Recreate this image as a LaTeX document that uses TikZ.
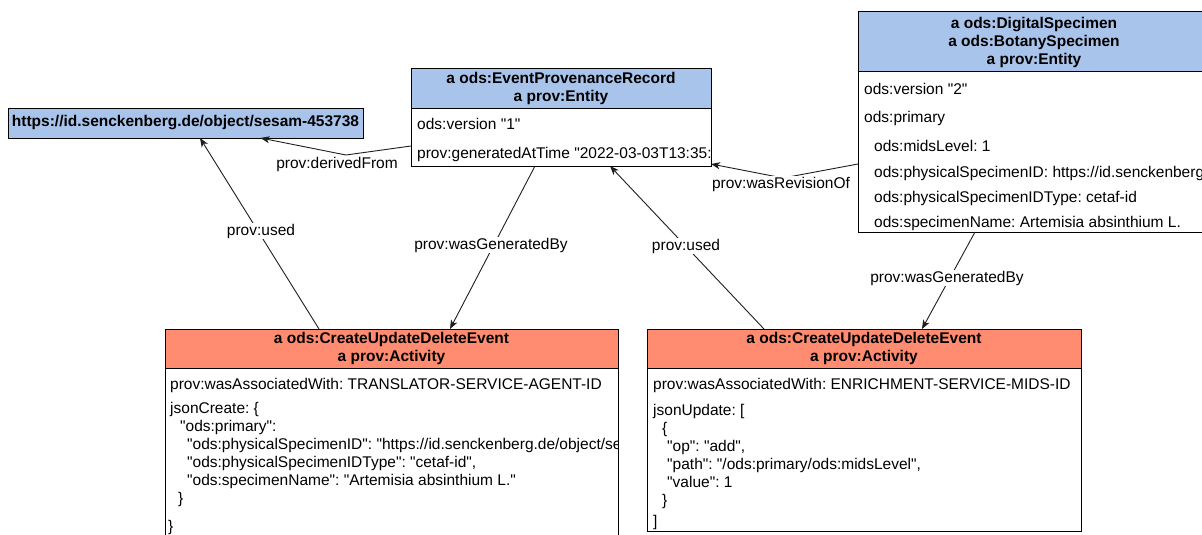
\documentclass[tikz,border=0pt]{standalone}
\usepackage{fontspec}
\setmainfont{Liberation Sans}[Ligatures=TeXOff]
\usetikzlibrary{arrows.meta}

\definecolor{entityblue}{RGB}{169,196,235}
\definecolor{activityred}{RGB}{255,140,112}
\definecolor{edgegray}{RGB}{30,30,30}

\tikzset{
  txtfont/.style={font=\fontsize{15.5}{18}\selectfont},
  box/.style={draw=black, line width=1pt, inner sep=0pt, outer sep=0pt},
  entityhead/.style={box, fill=entityblue, align=center, font=\fontsize{15.5}{18}\selectfont\bfseries},
  activityhead/.style={box, fill=activityred, align=center, font=\fontsize{15.5}{18}\selectfont\bfseries},
  bodybox/.style={box, fill=white},
  row/.style={anchor=base west, inner sep=0pt, txtfont},
  link/.style={draw=edgegray, line width=0.9pt, -{Stealth[length=9pt,width=7pt,inset=2.5pt]}},
  linklabel/.style={fill=white, inner sep=1pt, txtfont},
}

\begin{document}
\frenchspacing
\begin{tikzpicture}[x=1pt, y=-1pt]
\useasboundingbox (0,0) rectangle (1202,535);
\clip (0,0) rectangle (1202,535);

% ---- entity: external object ----
\node[entityhead, minimum width=355pt, minimum height=30pt] (url) at (185.5,123)
  {https://id.senckenberg.de/object/sesam-453738};

% ---- entity: event provenance record ----
\node[entityhead, minimum width=300pt, minimum height=39pt] (eprhead) at (561,88.5)
  {a ods:EventProvenanceRecord\\a prov:Entity};
\node[bodybox, minimum width=300pt, minimum height=58pt] (eprbody) at (561,137) {};
\begin{scope}
  \clip (eprbody.south west) rectangle (eprbody.north east);
  \node[row] (eprver) at (417,129) {ods:version "1"};
  \node[row] (eprtime) at (417,158) {prov:generatedAtTime "2022-03-03T13:35:};
\end{scope}

% ---- entity: digital specimen ----
\node[entityhead, minimum width=352pt, minimum height=60pt] (dshead) at (1034,42)
  {a ods:DigitalSpecimen\\a ods:BotanySpecimen\\a prov:Entity};
\node[bodybox, minimum width=352pt, minimum height=160pt] (dsbody) at (1034,152) {};
\node[row] (dsver)  at (864,94)  {ods:version "2"};
\node[row] (dsprim) at (864,122) {ods:primary};
\node[row] (dsmids) at (874,151) {ods:midsLevel: 1};
\node[row] (dsphys) at (874,177) {ods:physicalSpecimenID: https://id.senckenberg};
\node[row] (dstype) at (874,202) {ods:physicalSpecimenIDType: cetaf-id};
\node[row] (dsname) at (874,227) {ods:specimenName: Artemisia absinthium L.};

% ---- activity: translator create event ----
\node[activityhead, minimum width=453pt, minimum height=39pt] (aonehead) at (391.5,348.5)
  {a ods:CreateUpdateDeleteEvent\\a prov:Activity};
\node[bodybox, minimum width=453pt, minimum height=232pt] (aonebody) at (391.5,484) {};
\begin{scope}
  \clip (aonebody.south west) rectangle (aonebody.north east);
  \node[row] (aoneagent) at (170,389) {prov:wasAssociatedWith: TRANSLATOR-SERVICE-AGENT-ID};
  \node[row] (aonej1) at (170,413) {jsonCreate: \{};
  \node[row] (aonej2) at (180,431) {"ods:primary":};
  \node[row] (aonej3) at (187,449) {"ods:physicalSpecimenID": "https://id.senckenberg.de/object/se};
  \node[row] (aonej4) at (187,467) {"ods:physicalSpecimenIDType": "cetaf-id",};
  \node[row] (aonej5) at (187,485) {"ods:specimenName": "Artemisia absinthium L."};
  \node[row] (aonej6) at (178,503) {\}};
  \node[row] (aonej7) at (168,531) {\}};
\end{scope}

% ---- activity: enrichment update event ----
\node[activityhead, minimum width=434pt, minimum height=39pt] (atwohead) at (864,348.5)
  {a ods:CreateUpdateDeleteEvent\\a prov:Activity};
\node[bodybox, minimum width=434pt, minimum height=163pt] (atwobody) at (864,449.5) {};
\node[row] (atwoagent) at (653,389) {prov:wasAssociatedWith: ENRICHMENT-SERVICE-MIDS-ID};
\node[row] (atwoj1) at (653,415) {jsonUpdate: [};
\node[row] (atwoj2) at (662,433) {\{};
\node[row] (atwoj3) at (667,451) {"op": "add",};
\node[row] (atwoj4) at (667,469) {"path": "/ods:primary/ods:midsLevel",};
\node[row] (atwoj5) at (667,487) {"value": 1};
\node[row] (atwoj6) at (662,505) {\}};
\node[row] (atwoj7) at (653,526) {]};

% ---- relations ----
\coordinate (dfbend) at (346,155);
\coordinate (revbend) at (783,178);

\draw[link] ([yshift=20pt]eprbody.south west) -- (dfbend) -- ([xshift=75pt]url.south);
\draw[link] ([xshift=-72.5pt]aonehead.north) -- ([xshift=14.5pt]url.south);
\draw[link] ([xshift=-26pt]eprbody.south) -- ([xshift=58.5pt]aonehead.north);
\draw[link] ([xshift=-100pt]atwohead.north) -- ([xshift=49pt]eprbody.south);
\draw[link] ([yshift=68pt]dsbody.south west) -- (revbend) -- ([yshift=2pt]eprbody.south east);
\draw[link] ([xshift=-59pt]dsbody.south) -- ([xshift=58pt]atwohead.north);

\node[linklabel] (lblderived) at (337,164) {prov:derivedFrom};
\node[linklabel] (lblusedl)   at (261,231) {prov:used};
\node[linklabel] (lblgenl)    at (491,245) {prov:wasGeneratedBy};
\node[linklabel] (lblusedr)   at (686,246) {prov:used};
\node[linklabel] (lblrev)     at (781,184) {prov:wasRevisionOf};
\node[linklabel] (lblgenr)    at (947,278) {prov:wasGeneratedBy};
\end{tikzpicture}
\end{document}
